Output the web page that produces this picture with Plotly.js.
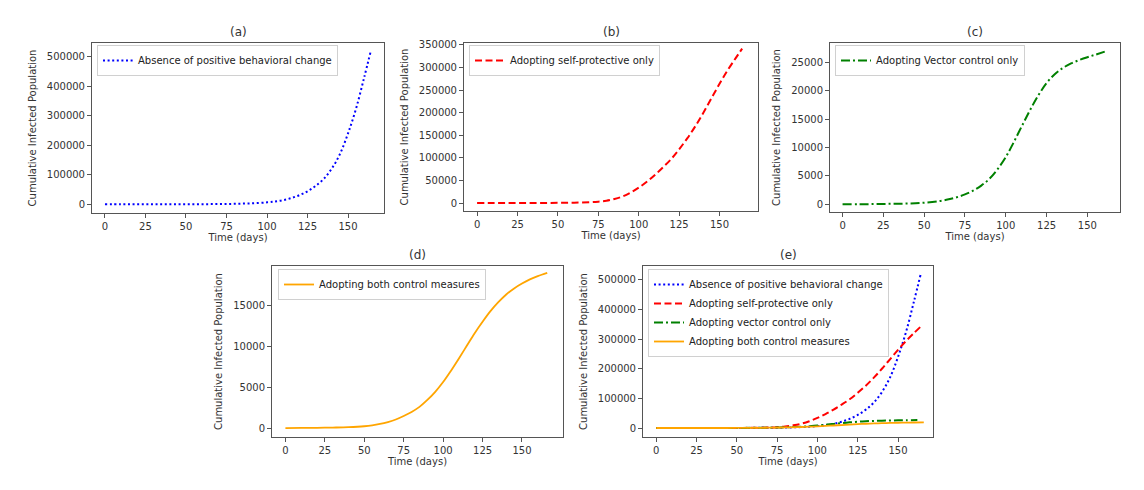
<!DOCTYPE html>
<html>
<head>
<meta charset="utf-8">
<script src="https://cdn.plot.ly/plotly-3.0.1.min.js"></script>
<style>html,body{margin:0;padding:0;background:#fff;}#chart{width:1144px;height:490px;}</style>
</head>
<body>
<div id="chart"></div>
<script>
// ---- data ----
const panelTitles = ["(a)", "(b)", "(c)", "(d)", "(e)"];
const seriesNames = [
  "Absence of positive behavioral change",
  "Adopting self-protective only",
  "Adopting Vector control only",
  "Adopting both control measures"
];
const seriesNamesE = [
  "Absence of positive behavioral change",
  "Adopting self-protective only",
  "Adopting vector control only",
  "Adopting both control measures"
];
const xTitle = "Time (days)";
const yTitle = "Cumulative Infected Population";
const xTicks = [0, 25, 50, 75, 100, 125, 150];

const daysAbsence = [0,10,20,30,40,50,60,70,80,90,100,105,110,115,120,125,130,135,140,145,150,155,160,164];
const absence     = [0,10,25,50,100,200,400,800,1600,3200,6500,9500,14000,21000,31000,44000,62000,86000,121000,170000,240000,325000,430000,518000];

const daysSelf = [0,10,20,30,40,50,60,70,75,80,85,90,95,100,105,110,115,120,125,130,135,140,145,150,155,160,164];
const selfProt = [0,20,50,100,180,300,800,1800,3000,5000,9000,14500,23000,34000,47000,62000,79000,97000,119000,143000,170000,200000,232000,264000,294000,321000,342000];

const daysVector = [0,10,20,30,40,50,60,65,70,75,80,85,90,95,100,105,110,115,120,125,130,135,140,145,150,155,162];
const vector     = [0,20,50,90,140,280,600,880,1250,1750,2400,3300,4500,6200,8300,11000,13850,16650,19200,21350,22900,24000,24800,25400,25900,26350,27000];

const daysBoth = [0,10,20,30,40,50,55,60,65,70,75,80,85,90,95,100,105,110,115,120,125,130,135,140,145,150,155,160,166];
const both     = [0,10,30,60,110,220,330,500,740,1050,1480,1980,2600,3450,4450,5650,7050,8550,10100,11650,13050,14350,15450,16400,17150,17750,18250,18650,19050];

const yTickStep = [100000, 50000, 5000, 5000, 100000];

// ---- styles ----
const W = 1144, H = 490;
const styles = [
  {color: "#0000ff", dash: "2px,2.6px", width: 2},
  {color: "#ff0000", dash: "7px,3.5px", width: 2},
  {color: "#008000", dash: "9px,3px,2px,3px", width: 2},
  {color: "#ffa500", dash: "solid", width: 1.8}
];
// pixel boxes of the five axes [left, top, right, bottom]
const boxes = [
  [92, 43, 384, 213],
  [464, 43, 758, 211],
  [830, 43, 1120, 212],
  [272, 266, 563, 437],
  [643, 266, 933, 437]
];
const xRanges = [[-8.0, 172.2], [-8.1, 173.8], [-7.7, 170.0], [-8.5, 176.0], [-8.2, 171.7]];
const yRanges = [[-29500, 546000], [-17700, 354400], [-1350, 28400], [-1100, 19900], [-30300, 547000]];
const legendPos = [[97, 45], [469, 45], [835, 45], [278, 269], [648, 269]];

const allX = [daysAbsence, daysSelf, daysVector, daysBoth];
const allY = [absence, selfProt, vector, both];

const traces = [];
function addTrace(i, panel, name, legendId) {
  const sfx = panel === 0 ? "" : String(panel + 1);
  traces.push({
    x: allX[i], y: allY[i], type: "scatter", mode: "lines", name: name,
    xaxis: "x" + sfx, yaxis: "y" + sfx, legend: legendId, showlegend: true,
    line: {color: styles[i].color, dash: styles[i].dash, width: styles[i].width, shape: "spline", smoothing: 1},
    hoverinfo: "skip"
  });
}
addTrace(0, 0, seriesNames[0], "legend");
addTrace(1, 1, seriesNames[1], "legend2");
addTrace(2, 2, seriesNames[2], "legend3");
addTrace(3, 3, seriesNames[3], "legend4");
for (let i = 0; i < 4; i++) addTrace(i, 4, seriesNamesE[i], "legend5");

const layout = {
  width: W, height: H,
  margin: {l: 0, r: 0, t: 0, b: 0},
  showlegend: true,
  paper_bgcolor: "#ffffff", plot_bgcolor: "#ffffff",
  font: {family: "DejaVu Sans", size: 10, color: "#333"},
  annotations: []
};
const axisBase = {
  showline: true, mirror: true, linecolor: "#555", linewidth: 1,
  ticks: "outside", ticklen: 4, tickwidth: 1, tickcolor: "#555",
  showgrid: false, zeroline: false, tickfont: {size: 10, color: "#333"},
  fixedrange: true
};
for (let p = 0; p < 5; p++) {
  const b = boxes[p];
  const sfx = p === 0 ? "" : String(p + 1);
  layout["xaxis" + sfx] = Object.assign({}, axisBase, {
    domain: [b[0] / W, b[2] / W], anchor: "y" + sfx, range: xRanges[p],
    tickmode: "array", tickvals: xTicks, ticktext: xTicks.map(String),
    title: {text: xTitle, font: {size: 10, color: "#333"}, standoff: 2}
  });
  layout["yaxis" + sfx] = Object.assign({}, axisBase, {
    domain: [1 - b[3] / H, 1 - b[1] / H], anchor: "x" + sfx, range: yRanges[p],
    tickmode: "linear", tick0: 0, dtick: yTickStep[p], tickformat: "d",
    title: {text: yTitle, font: {size: 10, color: "#333"}, standoff: 8}
  });
  const lid = p === 0 ? "legend" : "legend" + (p + 1);
  layout[lid] = {
    x: legendPos[p][0] / W, y: 1 - legendPos[p][1] / H, xanchor: "left", yanchor: "top",
    xref: "paper", yref: "paper",
    bgcolor: "rgba(255,255,255,0.85)", bordercolor: "#d0d0d0", borderwidth: 1,
    font: {size: 10, color: "#222"}, itemwidth: 30, tracegroupgap: 0,
    itemclick: false, itemdoubleclick: false
  };
  layout.annotations.push({
    text: panelTitles[p], xref: "paper", yref: "paper",
    x: (b[0] + b[2]) / 2 / W, y: 1 - (b[1] - 11) / H,
    xanchor: "center", yanchor: "middle", showarrow: false,
    font: {size: 12, color: "#333"}
  });
}

Plotly.newPlot("chart", traces, layout, {displayModeBar: false, staticPlot: true});
</script>
</body>
</html>
